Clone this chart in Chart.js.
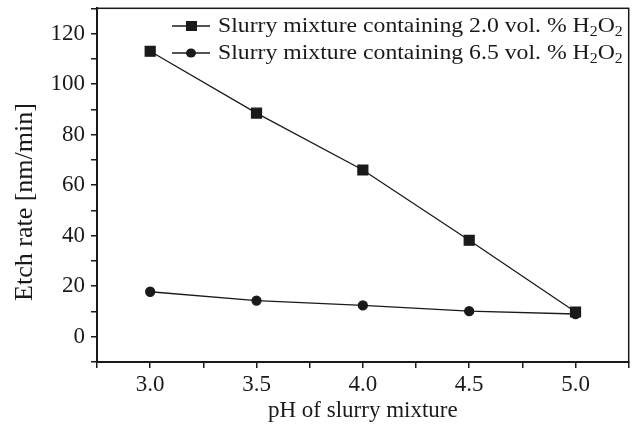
<!DOCTYPE html>
<html>
<head>
<meta charset="utf-8">
<script src="https://cdn.jsdelivr.net/npm/chart.js@4.4.1/dist/chart.umd.min.js"></script>
<style>
  html, body { margin: 0; padding: 0; background: #fff; }
  #wrap { width: 637px; height: 430px; }
</style>
</head>
<body>
<div id="wrap"><canvas id="etchChart" width="637" height="430"></canvas></div>
<script>
// pH values and etch rates
const phValues = [3.0, 3.5, 4.0, 4.5, 5.0];
const etchLowH2O2 = [113, 88.5, 66, 38.2, 9.8];
const etchHighH2O2 = [17.8, 14.3, 12.4, 10.1, 9.0];
const seriesLabels = ['Slurry mixture containing 2.0 vol. % H2O2', 'Slurry mixture containing 6.5 vol. % H2O2'];
const xTickLabels = ['3.0', '3.5', '4.0', '4.5', '5.0'];
const yTickLabels = ['0', '20', '40', '60', '80', '100', '120'];
const yAxisTitle = 'Etch rate [nm/min]';

const FONT = '"Liberation Serif", "Times New Roman", serif';
const INK = '#1a1a1a';

function toPoints(xs, ys) {
    return xs.map(function(x, i) { return { x: x, y: ys[i] }; });
}

// frame round the plot area + y title (sits a bit below centre in the original)
const framePlugin = {
    id: 'frame',
    afterDraw: function(chart) {
        const a = chart.chartArea;
        const ctx = chart.ctx;
        ctx.save();
        ctx.strokeStyle = INK;
        ctx.lineWidth = 1.5;
        ctx.strokeRect(a.left, a.top, a.right - a.left, a.bottom - a.top);
        ctx.translate(25, 202);
        ctx.rotate(-Math.PI / 2);
        ctx.fillStyle = INK;
        ctx.font = '26px ' + FONT;
        ctx.textAlign = 'center';
        ctx.textBaseline = 'middle';
        ctx.fillText(yAxisTitle, 0, 0);
        ctx.restore();
    }
};

// legend inside the plot, with subscripted H2O2 (text is a bit wide in the original)
const insideLegend = {
    id: 'insideLegend',
    afterDraw: function(chart) {
        const ctx = chart.ctx;
        const rowY = [26, 53];
        const stretch = 1.13;
        ctx.save();
        chart.data.datasets.forEach(function(ds, i) {
            const y = rowY[i];
            ctx.strokeStyle = INK;
            ctx.lineWidth = 1.3;
            ctx.beginPath();
            ctx.moveTo(172, y);
            ctx.lineTo(210, y);
            ctx.stroke();
            ctx.fillStyle = INK;
            if (ds.pointStyle === 'rect') {
                ctx.fillRect(186, y - 5, 11, 10);
            } else {
                ctx.beginPath();
                ctx.ellipse(191, y, 5, 4.5, 0, 0, Math.PI * 2);
                ctx.fill();
            }
            const parts = ds.label.split('H2O2');
            ctx.save();
            ctx.translate(218, y);
            ctx.scale(stretch, 1);
            let x = 0;
            ctx.textBaseline = 'middle';
            ctx.textAlign = 'left';
            ctx.font = '21px ' + FONT;
            ctx.fillText(parts[0] + 'H', x, 0);
            x += ctx.measureText(parts[0] + 'H').width;
            ctx.font = '14px ' + FONT;
            ctx.fillText('2', x, 6);
            x += ctx.measureText('2').width;
            ctx.font = '21px ' + FONT;
            ctx.fillText('O', x, 0);
            x += ctx.measureText('O').width;
            ctx.font = '14px ' + FONT;
            ctx.fillText('2', x, 6);
            ctx.restore();
        });
        ctx.restore();
    }
};

new Chart(document.getElementById('etchChart'), {
    type: 'line',
    data: {
        datasets: [{
            label: seriesLabels[0],
            data: toPoints(phValues, etchLowH2O2),
            borderColor: INK,
            backgroundColor: INK,
            borderWidth: 1.3,
            pointStyle: 'rect',
            pointRadius: 7,
            pointHoverRadius: 7,
            tension: 0
        }, {
            label: seriesLabels[1],
            data: toPoints(phValues, etchHighH2O2),
            borderColor: INK,
            backgroundColor: INK,
            borderWidth: 1.3,
            pointStyle: 'circle',
            pointRadius: 4.5,
            pointHoverRadius: 4.5,
            tension: 0
        }]
    },
    options: {
        responsive: false,
        animation: false,
        layout: { padding: { top: 8, right: 7, left: 0, bottom: 0 } },
        plugins: {
            legend: { display: false },
            tooltip: { enabled: false }
        },
        scales: {
            x: {
                type: 'linear',
                min: 2.75,
                max: 5.25,
                afterFit: function(scale) {
                    scale.height = 68;
                    scale.paddingLeft = 0;
                    scale.paddingRight = 0;
                },
                afterBuildTicks: function(scale) {
                    const t = [];
                    for (let v = 2.75; v <= 5.251; v += 0.25) t.push({ value: Math.round(v * 100) / 100 });
                    scale.ticks = t;
                },
                ticks: {
                    color: INK,
                    font: { family: FONT, size: 23 },
                    padding: 3,
                    maxRotation: 0,
                    autoSkip: false,
                    callback: function(value) {
                        const s = value.toFixed(1);
                        return (Math.abs(value * 2 - Math.round(value * 2)) < 1e-6 && xTickLabels.includes(s)) ? s : '';
                    }
                },
                grid: { drawOnChartArea: false, drawTicks: true, tickLength: 6, color: INK, lineWidth: 1.5 },
                border: { color: INK, width: 2 },
                title: {
                    display: true,
                    text: 'pH of slurry mixture',
                    color: INK,
                    font: { family: FONT, size: 23 },
                    padding: { top: 0, bottom: 5 }
                }
            },
            y: {
                min: -10,
                max: 130,
                afterFit: function(scale) {
                    scale.width = 97;
                    scale.paddingTop = 0;
                    scale.paddingBottom = 0;
                },
                ticks: {
                    stepSize: 10,
                    color: INK,
                    font: { family: FONT, size: 23 },
                    padding: 6,
                    autoSkip: false,
                    callback: function(value) {
                        const s = String(value);
                        return yTickLabels.includes(s) ? s : '';
                    }
                },
                grid: { drawOnChartArea: false, drawTicks: true, tickLength: 6, color: INK, lineWidth: 1.5 },
                border: { color: INK, width: 2 },
                title: { display: false }
            }
        }
    },
    plugins: [framePlugin, insideLegend]
});
</script>
</body>
</html>
